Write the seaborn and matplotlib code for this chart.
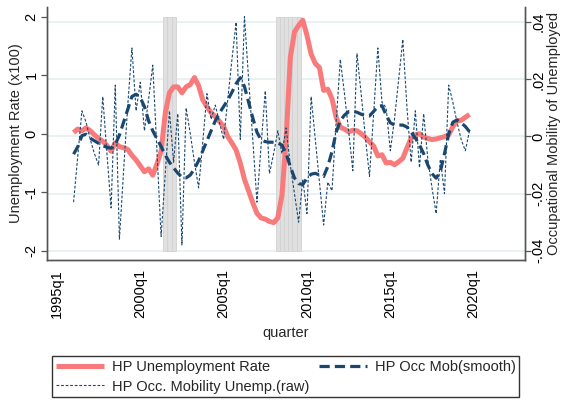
import numpy as np
import pandas as pd
import matplotlib
matplotlib.use("Agg")
import matplotlib.pyplot as plt
import seaborn as sns

# ---- data -------------------------------------------------------------
first_quarter = "1996Q1"
n_quarters = 96

# HP-filtered unemployment rate (x100), left axis
hp_unemp = [
    0.02, 0.08, 0.05, 0.10, 0.05, -0.02, -0.08, -0.13,
    -0.20, -0.30, -0.16, -0.22, -0.24, -0.27, -0.37, -0.45,
    -0.55, -0.65, -0.60, -0.71, -0.52, -0.30, 0.35, 0.70,
    0.80, 0.80, 0.70, 0.80, 0.84, 0.96, 0.82, 0.58,
    0.46, 0.36, 0.29, 0.21, 0.12, -0.05, -0.16, -0.28,
    -0.50, -0.78, -0.98, -1.18, -1.36, -1.44, -1.46, -1.50,
    -1.52, -1.44, -1.05, -0.10, 1.30, 1.74, 1.85, 1.94,
    1.68, 1.36, 1.20, 1.13, 0.74, 0.76, 0.60, 0.28,
    0.11, 0.08, 0.03, 0.06, 0.05, 0.00, -0.06, -0.14,
    -0.21, -0.38, -0.36, -0.50, -0.49, -0.53, -0.48, -0.42,
    -0.24, -0.08, -0.02, 0.00, -0.06, -0.08, -0.10, -0.09,
    -0.07, -0.05, -0.02, 0.12, 0.22, 0.23, 0.28, 0.33,
]

# HP-filtered occupational mobility of the unemployed, raw series (right axis)
hp_occ_raw = [
    -0.023, -0.007, 0.009, 0.005, -0.001, -0.006, -0.010, 0.014,
    -0.006, -0.025, 0.018, -0.036, -0.012, 0.011, 0.031, 0.009,
    0.019, 0.002, 0.013, 0.025, -0.005, -0.035, -0.013, 0.009,
    -0.009, 0.008, -0.038, 0.010, 0.001, -0.009, -0.018, -0.002,
    0.015, 0.006, 0.011, 0.005, -0.001, 0.013, 0.027, 0.040,
    -0.001, 0.042, 0.020, -0.001, -0.023, -0.003, 0.016, -0.013,
    -0.006, 0.002, -0.006, 0.003, -0.010, -0.020, -0.030, -0.015,
    -0.027, 0.014, -0.001, -0.016, -0.031, -0.016, -0.019, 0.005,
    0.027, 0.015, 0.002, -0.012, 0.029, 0.015, 0.000, -0.014,
    0.008, 0.031, 0.012, 0.010, -0.005, 0.006, 0.020, 0.034,
    0.010, -0.009, 0.009, -0.011, 0.008, -0.008, -0.018, -0.027,
    -0.008, -0.020, 0.018, 0.012, 0.005, -0.001, -0.005, 0.002,
]

# Smoothed occupational mobility series (right axis)
hp_occ_smooth = [
    -0.0062, -0.0036, 0.0003, 0.0008, -0.0006, -0.0015, -0.0024, -0.0032,
    -0.0038, -0.0041, -0.0028, 0.0005, 0.0050, 0.0095, 0.0140, 0.0148,
    0.0136, 0.0105, 0.0055, 0.0020, -0.0008, -0.0035, -0.0065, -0.0090,
    -0.0110, -0.0128, -0.0143, -0.0145, -0.0135, -0.0113, -0.0085, -0.0050,
    -0.0015, 0.0020, 0.0055, 0.0082, 0.0105, 0.0128, 0.0155, 0.0185,
    0.0206, 0.0175, 0.0120, 0.0065, 0.0015, -0.0012, -0.0018, -0.0020,
    -0.0020, -0.0023, -0.0030, -0.0060, -0.0105, -0.0145, -0.0165, -0.0168,
    -0.0146, -0.0132, -0.0129, -0.0135, -0.0140, -0.0105, -0.0053, 0.0015,
    0.0055, 0.0075, 0.0087, 0.0088, 0.0085, 0.0078, 0.0073, 0.0072,
    0.0088, 0.0105, 0.0108, 0.0075, 0.0048, 0.0040, 0.0040, 0.0040,
    0.0033, 0.0015, -0.0005, -0.0030, -0.0060, -0.0100, -0.0130, -0.0146,
    -0.0123, -0.0060, 0.0008, 0.0050, 0.0058, 0.0048, 0.0035, 0.0017,
]

# Recession quarters (shaded)
recession_quarters = ["2001Q3", "2001Q4", "2002Q1",
                      "2008Q2", "2008Q3", "2008Q4", "2009Q1", "2009Q2", "2009Q3"]
recession_low, recession_high = -2, 2

# Axis ticks
x_tick_years = [1995, 2000, 2005, 2010, 2015, 2020]
left_ticks = [2, 1, 0, -1, -2]
left_tick_labels = ["2", "1", "0", "-1", "-2"]
right_ticks = [0.04, 0.02, 0.0, -0.02, -0.04]
right_tick_labels = [".04", ".02", "0", "-.02", "-.04"]


def tq(period):
    """Quarterly date index counted from 1960q1."""
    return (period.year - 1960) * 4 + (period.quarter - 1)


quarters = pd.period_range(first_quarter, periods=n_quarters, freq="Q")
df = pd.DataFrame({
    "t": [tq(p) for p in quarters],
    "unemp": hp_unemp,
    "occ_raw": hp_occ_raw,
    "occ_smooth": hp_occ_smooth,
})
rec_t = [tq(pd.Period(q, freq="Q")) for q in recession_quarters]

# ---- style ------------------------------------------------------------
sns.set_theme(style="white")
plt.rcParams["font.family"] = ["Liberation Sans", "DejaVu Sans"]
plt.rcParams["axes.unicode_minus"] = False

RED = "#f87a7a"
NAVY = "#1a476f"
GRID = "#e8f0f2"
AXCOL = "#555555"
FS = 10.5

fig = plt.figure(figsize=(5.62, 4.0), dpi=100)
ax = fig.add_axes([0.0845, 0.35, 0.8488, 0.6325])
ax2 = ax.twinx()

xlim = (137.74, 252.2)
ylim_left = (-2.159, 2.166)
ylim_right = (-0.04326, 0.04536)

# gridlines of the right-hand scale, drawn at the very back
for t in right_ticks:
    y_left = ylim_left[0] + (t - ylim_right[0]) / (ylim_right[1] - ylim_right[0]) * (ylim_left[1] - ylim_left[0])
    ax.axhline(y_left, color=GRID, lw=1.3, zorder=0)

# recession shading
ax.bar(rec_t, [recession_high - recession_low] * len(rec_t), bottom=recession_low,
       width=1.0, color="#e0e0e0", edgecolor="#d2d2d2", linewidth=0.6, zorder=1)

sns.lineplot(data=df, x="t", y="unemp", ax=ax, color=RED, linewidth=3.6,
             solid_capstyle="butt", zorder=3, legend=False)
h_unemp = ax.lines[-1]
sns.lineplot(data=df, x="t", y="occ_raw", ax=ax2, color=NAVY, linewidth=0.8,
             linestyle=(0, (2.5, 1.6)), zorder=3, legend=False)
h_raw = ax2.lines[-1]
sns.lineplot(data=df, x="t", y="occ_smooth", ax=ax2, color=NAVY, linewidth=2.3,
             linestyle=(0, (3.2, 1.6)), zorder=4, legend=False)
h_smooth = ax2.lines[-1]

for a in (ax, ax2):
    a.set_xlim(*xlim)
    a.grid(False)
ax.set_ylim(*ylim_left)
ax2.set_ylim(*ylim_right)

xt = [(y - 1960) * 4 for y in x_tick_years]
ax.set_xticks(xt)
ax.set_xticklabels([f"{y}q1" for y in x_tick_years], rotation=90, fontsize=FS)
ax.set_yticks(left_ticks)
ax.set_yticklabels(left_tick_labels, rotation=90, va="center", fontsize=FS)
ax2.set_yticks(right_ticks)
ax2.set_yticklabels(right_tick_labels, rotation=90, va="center", fontsize=FS)

for a in (ax, ax2):
    a.tick_params(axis="both", direction="out", length=4, width=0.9, color=AXCOL,
                  pad=2.5, colors="black")
    for side in ("left", "right", "bottom"):
        a.spines[side].set_color(AXCOL)
        a.spines[side].set_linewidth(1.0)
    a.spines["top"].set_visible(False)
ax2.tick_params(axis="y", pad=1.0)

ax.set_xlabel("quarter", fontsize=FS, labelpad=6)
ax.set_ylabel("Unemployment Rate (x100)", fontsize=FS)
ax.yaxis.set_label_coords(-0.052, 0.5)
ax.yaxis.label.set_va("bottom")
ax2.set_ylabel("Occupational Mobility of Unemployed", fontsize=FS)
ax2.yaxis.set_label_coords(1.077, 0.5)
ax2.yaxis.label.set_va("bottom")

# legend below the plot
handles = [h_unemp, h_raw, h_smooth]
labels = ["HP Unemployment Rate", "HP Occ. Mobility Unemp.(raw)", "HP Occ Mob(smooth)"]
leg = fig.legend(handles, labels, loc="lower left", bbox_to_anchor=(0.093, 0.007, 0.831, 0.12),
                 ncol=2, mode="expand", frameon=True, fancybox=False, fontsize=FS,
                 handlelength=3.3, handletextpad=0.55, columnspacing=2.5,
                 borderpad=0.25, labelspacing=0.4, borderaxespad=0)
leg.get_frame().set_edgecolor("black")
leg.get_frame().set_linewidth(1.0)

fig.savefig("out.png", dpi=100, facecolor="white")
